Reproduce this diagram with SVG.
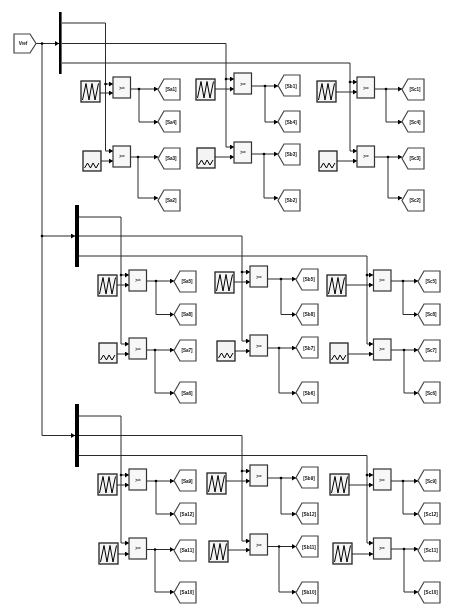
<svg xmlns="http://www.w3.org/2000/svg" width="450" height="614" viewBox="0 0 450 614">
<style>
.w{fill:none;stroke:#2a2a2a;stroke-width:1}
.a{marker-end:url(#ah)}
.g{fill:#fff;stroke:#444;stroke-width:1.2}
.m{fill:#f7f7f7;stroke:#333;stroke-width:1.2}
.c{fill:#f4f4f4;stroke:#222;stroke-width:1.3}
.z{fill:none;stroke:#000;stroke-width:1}
.b{fill:#000}
text{font-family:"Liberation Sans",Arial,sans-serif;font-size:4.6px;font-weight:bold;fill:#111;text-anchor:middle}
</style>
<defs>
<marker id="ah" markerUnits="userSpaceOnUse" markerWidth="5" markerHeight="5" refX="4" refY="2.5" orient="auto"><path d="M0 0L4 2.5L0 5Z" fill="#000"/></marker>
<filter id="bl" x="0" y="0" width="1" height="1"><feGaussianBlur stdDeviation="0.42"/></filter>
<path id="gt" class="g" d="M0 10.5L6 0H22V21H6Z"/>
<rect id="mu" class="m" x="0" y="0" width="17.5" height="21"/>
<g id="ct"><rect class="c" x="0" y="0" width="19" height="21"/><path class="z" d="M1.5 19L5 2.5L8 19L11 2.5L14 19L17.5 2.5"/></g>
<g id="cs"><rect class="c" x="0" y="0" width="18" height="20"/><path class="z" d="M1.5 17L4.500 12L7.500 17L10 12L13 17L16 12"/></g>
<circle id="j" r="1.3" fill="#000"/>
</defs>
<g filter="url(#bl)">
<rect width="450" height="614" fill="#fff"/>
<g id="connectors">
<path class="w a" d="M36 43.500H59"/>
<path class="w" d="M42 43.500V435.500"/>
<path class="w a" d="M42 236H75"/>
<path class="w a" d="M42 435.500H75"/>
<path class="w a" d="M62 23H105.500V84H113"/>
<path class="w a" d="M105.500 84V151H113"/>
<path class="w a" d="M62 43.500H226V79H234"/>
<path class="w a" d="M226 79V147H234"/>
<path class="w a" d="M62 63H350V82H357"/>
<path class="w a" d="M350 82V151H357"/>
<path class="w a" d="M100 93H113"/><path class="w a" d="M100 161H113"/>
<path class="w a" d="M215 89H234"/><path class="w a" d="M215 157H234"/>
<path class="w a" d="M336 92H357"/><path class="w a" d="M337 161H357"/>
<path class="w a" d="M130 89H158"/><path class="w a" d="M139 89V122H158"/>
<path class="w a" d="M130 157H158"/><path class="w a" d="M138 157V198H158"/>
<path class="w a" d="M251 86H278"/><path class="w a" d="M265 86V122H278"/>
<path class="w a" d="M251 154H278"/><path class="w a" d="M264 154V198H278"/>
<path class="w a" d="M374 89H402"/><path class="w a" d="M386 89V122H402"/>
<path class="w a" d="M374 157H402"/><path class="w a" d="M388 157V198H402"/>
<path class="w a" d="M79 217H121V275H129"/><path class="w a" d="M121 275V344H129"/>
<path class="w a" d="M79 236H242V272H250"/><path class="w a" d="M242 272V341H250"/>
<path class="w a" d="M79 256H367V275H373"/><path class="w a" d="M367 275V344H373"/>
<path class="w a" d="M117 285H129"/><path class="w a" d="M117 354H129"/>
<path class="w a" d="M234 282H250"/><path class="w a" d="M235 351H250"/>
<path class="w a" d="M346 285H373"/><path class="w a" d="M348 354H373"/>
<path class="w a" d="M146.500 281H174"/><path class="w a" d="M156 281V314.500H174"/>
<path class="w a" d="M146.500 350H174"/><path class="w a" d="M155 350V393H174"/>
<path class="w a" d="M267 279H296"/><path class="w a" d="M281 279V314.500H296"/>
<path class="w a" d="M267 348H296"/><path class="w a" d="M279 348V393H296"/>
<path class="w a" d="M391 281H418"/><path class="w a" d="M403 281V314.500H418"/>
<path class="w a" d="M391 350H418"/><path class="w a" d="M404 350V393H418"/>
<path class="w a" d="M79 416H121V475H129"/><path class="w a" d="M121 475V543H129"/>
<path class="w a" d="M79 435.500H242V471H250"/><path class="w a" d="M242 471V541H250"/>
<path class="w a" d="M79 455.500H367V475H373"/><path class="w a" d="M367 475V543H373"/>
<path class="w a" d="M117 485H129"/><path class="w a" d="M117 554H129"/>
<path class="w a" d="M226 481H250"/><path class="w a" d="M228 550H250"/>
<path class="w a" d="M349 485H373"/><path class="w a" d="M352 554H373"/>
<path class="w a" d="M146.500 481H174"/><path class="w a" d="M156 481V514H174"/>
<path class="w a" d="M146.500 549.500H174"/><path class="w a" d="M155 549.500V592H174"/>
<path class="w a" d="M267 478H296"/><path class="w a" d="M281 478V514H296"/>
<path class="w a" d="M267 546.500H296"/><path class="w a" d="M279 546.500V592H296"/>
<path class="w a" d="M391 481H418"/><path class="w a" d="M403 481V514H418"/>
<path class="w a" d="M391 549H418"/><path class="w a" d="M404 549V592H418"/>
<use href="#j" x="42" y="43.500"/><use href="#j" x="42" y="236"/>
<use href="#j" x="105.500" y="84"/><use href="#j" x="226" y="79"/><use href="#j" x="350" y="82"/>
<use href="#j" x="121" y="275"/><use href="#j" x="242" y="272"/><use href="#j" x="367" y="275"/>
<use href="#j" x="121" y="475"/><use href="#j" x="242" y="471"/><use href="#j" x="367" y="475"/>
<use href="#j" x="139" y="89"/><use href="#j" x="138" y="157"/><use href="#j" x="265" y="86"/><use href="#j" x="264" y="154"/><use href="#j" x="386" y="89"/><use href="#j" x="388" y="157"/>
<use href="#j" x="156" y="281"/><use href="#j" x="155" y="350"/><use href="#j" x="281" y="279"/><use href="#j" x="279" y="348"/><use href="#j" x="403" y="281"/><use href="#j" x="404" y="350"/>
<use href="#j" x="156" y="481"/><use href="#j" x="155" y="549.500"/><use href="#j" x="281" y="478"/><use href="#j" x="279" y="546.500"/><use href="#j" x="403" y="481"/><use href="#j" x="404" y="549"/>
</g>
<g id="vref"><path class="g" d="M14 34H30L36 43.500L30 53H14Z"/><text x="23" y="45">Vref</text></g>
<g id="bus1"><rect class="b" x="59" y="12" width="2.600" height="62"/></g>
<g id="bus2"><rect class="b" x="75" y="205" width="4" height="62"/></g>
<g id="bus3"><rect class="b" x="75" y="404" width="4" height="63"/></g>
<g id="carriers">
<use id="c1" href="#ct" x="81" y="81"/><use id="c2" href="#cs" x="83" y="151"/><use id="c3" href="#ct" x="196" y="79"/><use id="c4" href="#cs" x="197" y="148"/><use id="c5" href="#ct" x="317" y="81"/><use id="c6" href="#cs" x="319" y="151"/>
<use id="c7" href="#ct" x="98" y="275"/><use id="c8" href="#cs" x="99" y="343"/><use id="c9" href="#ct" x="215" y="272"/><use id="c10" href="#cs" x="217" y="341"/><use id="c11" href="#ct" x="327" y="275"/><use id="c12" href="#cs" x="330" y="343"/>
<use id="c13" href="#ct" x="98" y="474"/><use id="c14" href="#ct" x="99" y="543"/><use id="c15" href="#ct" x="207" y="473"/><use id="c16" href="#ct" x="209" y="541"/><use id="c17" href="#ct" x="330" y="474"/><use id="c18" href="#ct" x="333" y="543"/>
</g>
<g id="op1"><use href="#mu" x="113" y="77"/><text x="122" y="89.500">&gt;=</text></g>
<g id="op2"><use href="#mu" x="113" y="146"/><text x="122" y="158">&gt;=</text></g>
<g id="op3"><use href="#mu" x="234" y="73"/><text x="243" y="85.500">&gt;=</text></g>
<g id="op4"><use href="#mu" x="234" y="142"/><text x="243" y="154">&gt;=</text></g>
<g id="op5"><use href="#mu" x="357" y="77"/><text x="366" y="89.500">&gt;=</text></g>
<g id="op6"><use href="#mu" x="357" y="146"/><text x="366" y="158">&gt;=</text></g>
<g id="op7"><use href="#mu" x="129" y="270"/><text x="138" y="282">&gt;=</text></g>
<g id="op8"><use href="#mu" x="129" y="338"/><text x="138" y="350.500">&gt;=</text></g>
<g id="op9"><use href="#mu" x="250" y="266"/><text x="259" y="278.500">&gt;=</text></g>
<g id="op10"><use href="#mu" x="250" y="335"/><text x="259" y="347.500">&gt;=</text></g>
<g id="op11"><use href="#mu" x="373.500" y="270"/><text x="382" y="282">&gt;=</text></g>
<g id="op12"><use href="#mu" x="373.500" y="339"/><text x="382" y="351">&gt;=</text></g>
<g id="op13"><use href="#mu" x="129" y="469"/><text x="138" y="481.500">&gt;=</text></g>
<g id="op14"><use href="#mu" x="129" y="538"/><text x="138" y="550">&gt;=</text></g>
<g id="op15"><use href="#mu" x="250" y="465"/><text x="259" y="478">&gt;=</text></g>
<g id="op16"><use href="#mu" x="250" y="534"/><text x="259" y="546.500">&gt;=</text></g>
<g id="op17"><use href="#mu" x="373.500" y="469"/><text x="382" y="481.500">&gt;=</text></g>
<g id="op18"><use href="#mu" x="373.500" y="538"/><text x="382" y="550">&gt;=</text></g>
<g id="sa1"><use href="#gt" x="158" y="79"/><text x="171" y="91">[Sa1]</text></g>
<g id="sa4"><use href="#gt" x="158" y="111"/><text x="171" y="123.500">[Sa4]</text></g>
<g id="sa3"><use href="#gt" x="158" y="148"/><text x="171" y="160">[Sa3]</text></g>
<g id="sa2"><use href="#gt" x="158" y="190"/><text x="171" y="202">[Sa2]</text></g>
<g id="sb1"><use href="#gt" x="278" y="75"/><text x="291" y="87.500">[Sb1]</text></g>
<g id="sb4"><use href="#gt" x="278" y="111"/><text x="291" y="123.500">[Sb4]</text></g>
<g id="sb3"><use href="#gt" x="278" y="144"/><text x="291" y="156">[Sb3]</text></g>
<g id="sb2"><use href="#gt" x="278" y="190"/><text x="291" y="202">[Sb2]</text></g>
<g id="sc1"><use href="#gt" x="402" y="79"/><text x="415" y="91">[Sc1]</text></g>
<g id="sc4"><use href="#gt" x="402" y="111"/><text x="415" y="123.500">[Sc4]</text></g>
<g id="sc3"><use href="#gt" x="402" y="148"/><text x="415" y="160">[Sc3]</text></g>
<g id="sc2"><use href="#gt" x="402" y="190"/><text x="415" y="202">[Sc2]</text></g>
<g id="sa5"><use href="#gt" x="174" y="271"/><text x="187" y="283">[Sa5]</text></g>
<g id="sa8"><use href="#gt" x="174" y="304"/><text x="187" y="316">[Sa8]</text></g>
<g id="sa7"><use href="#gt" x="174" y="340"/><text x="187" y="352">[Sa7]</text></g>
<g id="sa6"><use href="#gt" x="174" y="382"/><text x="187" y="394.500">[Sa6]</text></g>
<g id="sb5"><use href="#gt" x="296" y="269"/><text x="309" y="281">[Sb5]</text></g>
<g id="sb8"><use href="#gt" x="296" y="304"/><text x="309" y="316">[Sb8]</text></g>
<g id="sb7"><use href="#gt" x="296" y="337"/><text x="309" y="349.500">[Sb7]</text></g>
<g id="sb6"><use href="#gt" x="296" y="382"/><text x="309" y="394.500">[Sb6]</text></g>
<g id="sc5"><use href="#gt" x="418" y="271"/><text x="431" y="283">[Sc5]</text></g>
<g id="sc8"><use href="#gt" x="418" y="304"/><text x="431" y="316">[Sc8]</text></g>
<g id="sc7"><use href="#gt" x="418" y="340"/><text x="431" y="352">[Sc7]</text></g>
<g id="sc6"><use href="#gt" x="418" y="382"/><text x="431" y="394.500">[Sc6]</text></g>
<g id="sa9"><use href="#gt" x="174" y="470"/><text x="187" y="482.500">[Sa9]</text></g>
<g id="sa12"><use href="#gt" x="174" y="503"/><text x="187" y="515.500">[Sa12]</text></g>
<g id="sa11"><use href="#gt" x="174" y="540"/><text x="187" y="552">[Sa11]</text></g>
<g id="sa10"><use href="#gt" x="174" y="582"/><text x="187" y="594">[Sa10]</text></g>
<g id="sb9"><use href="#gt" x="296" y="467"/><text x="309" y="479.500">[Sb9]</text></g>
<g id="sb12"><use href="#gt" x="296" y="503"/><text x="309" y="515.500">[Sb12]</text></g>
<g id="sb11"><use href="#gt" x="296" y="536"/><text x="309" y="548.500">[Sb11]</text></g>
<g id="sb10"><use href="#gt" x="296" y="582"/><text x="309" y="594">[Sb10]</text></g>
<g id="sc9"><use href="#gt" x="418" y="470"/><text x="431" y="482.500">[Sc9]</text></g>
<g id="sc12"><use href="#gt" x="418" y="503"/><text x="431" y="515.500">[Sc12]</text></g>
<g id="sc11"><use href="#gt" x="418" y="540"/><text x="431" y="552">[Sc11]</text></g>
<g id="sc10"><use href="#gt" x="418" y="582"/><text x="431" y="594">[Sc10]</text></g>
</g>
</svg>
